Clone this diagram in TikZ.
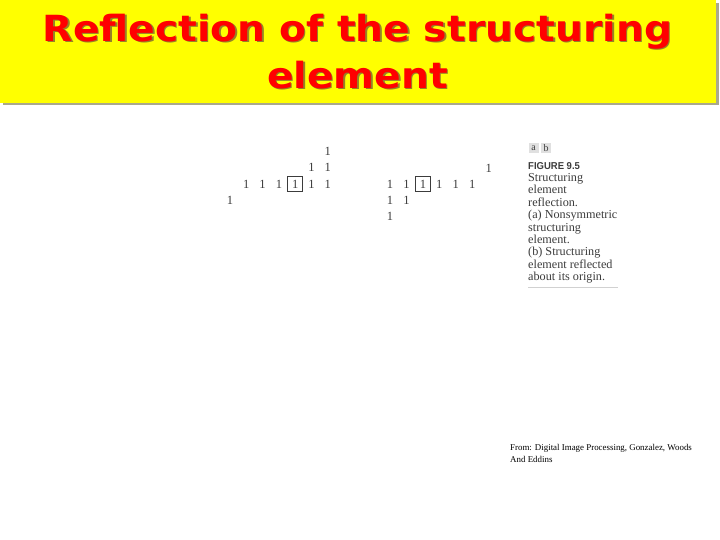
\documentclass[tikz,border=0pt]{standalone}
\usepackage{fontspec}
\setmainfont{Liberation Serif}
\newfontfamily\titlefont[FakeStretch=1.09]{DejaVu Sans}
\newfontfamily\capsans{Liberation Sans}
\definecolor{titleyellow}{RGB}{255,255,0}
\definecolor{titlered}{RGB}{255,0,0}
\definecolor{titleshadow}{RGB}{150,130,40}
\definecolor{boxshadow}{RGB}{170,168,140}
\definecolor{inkgray}{RGB}{60,60,60}
\tikzset{
  px/.style={x=1pt,y=-1pt},
  titletxt/.style={font=\titlefont\bfseries\fontsize{36}{40}\selectfont, inner sep=0pt, anchor=base},
  digit/.style={font=\fontsize{12.5}{14}\selectfont, text=inkgray, inner sep=0pt},
  origbox/.style={draw=inkgray, line width=0.9pt, minimum width=15pt, minimum height=15.5pt, inner sep=0pt},
  captxt/.style={font=\fontsize{12.2}{12.4}\selectfont, text=inkgray, inner sep=0pt, anchor=base west},
  creditxt/.style={font=\fontsize{8.9}{10}\selectfont, text=black, inner sep=0pt, anchor=base west},
  tagbox/.style={fill=black!12, font=\fontsize{10}{11}\selectfont, text=inkgray, inner sep=1pt, minimum width=10pt, minimum height=10pt}
}
\begin{document}
\begin{tikzpicture}[px]
\useasboundingbox (0,0) rectangle (720,540);
\fill[white] (0,0) rectangle (720,540);
% title bar
\fill[boxshadow] (3,3) rectangle (719,105.5);
\fill[titleyellow] (0,0) rectangle (716,103);
\node[titletxt, text=titleshadow] (t1s) at (359,43) {Reflection of the structuring};
\node[titletxt, text=titleshadow] (t2s) at (359,90) {element};
\node[titletxt, text=titlered] (t1) at (357.5,41.5) {Reflection of the structuring};
\node[titletxt, text=titlered] (t2) at (357.5,88.5) {element};
% matrix (a)
\foreach \c/\r [count=\i] in {6/0,5/1,6/1,1/2,2/2,3/2,4/2,5/2,6/2,0/3}
  \node[digit] (a\i) at ({230+16.3*\c},{151+16.5*\r}) {1};
\node[origbox] (aorig) at (a7) {};
% matrix (b)
\foreach \c/\r [count=\i] in {6/0,0/1,1/1,2/1,3/1,4/1,5/1,0/2,1/2,0/3}
  \node[digit] (b\i) at ({390+16.45*\c},{168+16.2*\r}) {1};
\node[origbox] (borig) at (b4) {};
% caption
\node[tagbox] (taga) at (533.5,148) {a};
\node[tagbox] (tagb) at (546,148) {b};
\node[captxt, font=\capsans\bfseries\fontsize{10}{12}\selectfont, xscale=0.95] (fig) at (528,169.5) {FIGURE 9.5};
\foreach \t [count=\i] in {Structuring,element,reflection.,(a) Nonsymmetric,structuring,element.,(b) Structuring,element reflected,about its origin.}
  \node[captxt] (cap\i) at (528,{169+12.4*\i}) {\t};
\coordinate (rl1) at (528,287.5);
\coordinate (rl2) at (618,287.5);
\draw[black!18, line width=0.6pt] (rl1) -- (rl2);
% credit
\node[creditxt] (cr1) at (510,450) {From: Digital Image Processing, Gonzalez, Woods};
\node[creditxt] (cr2) at (510,462) {And Eddins};
\end{tikzpicture}
\end{document}
